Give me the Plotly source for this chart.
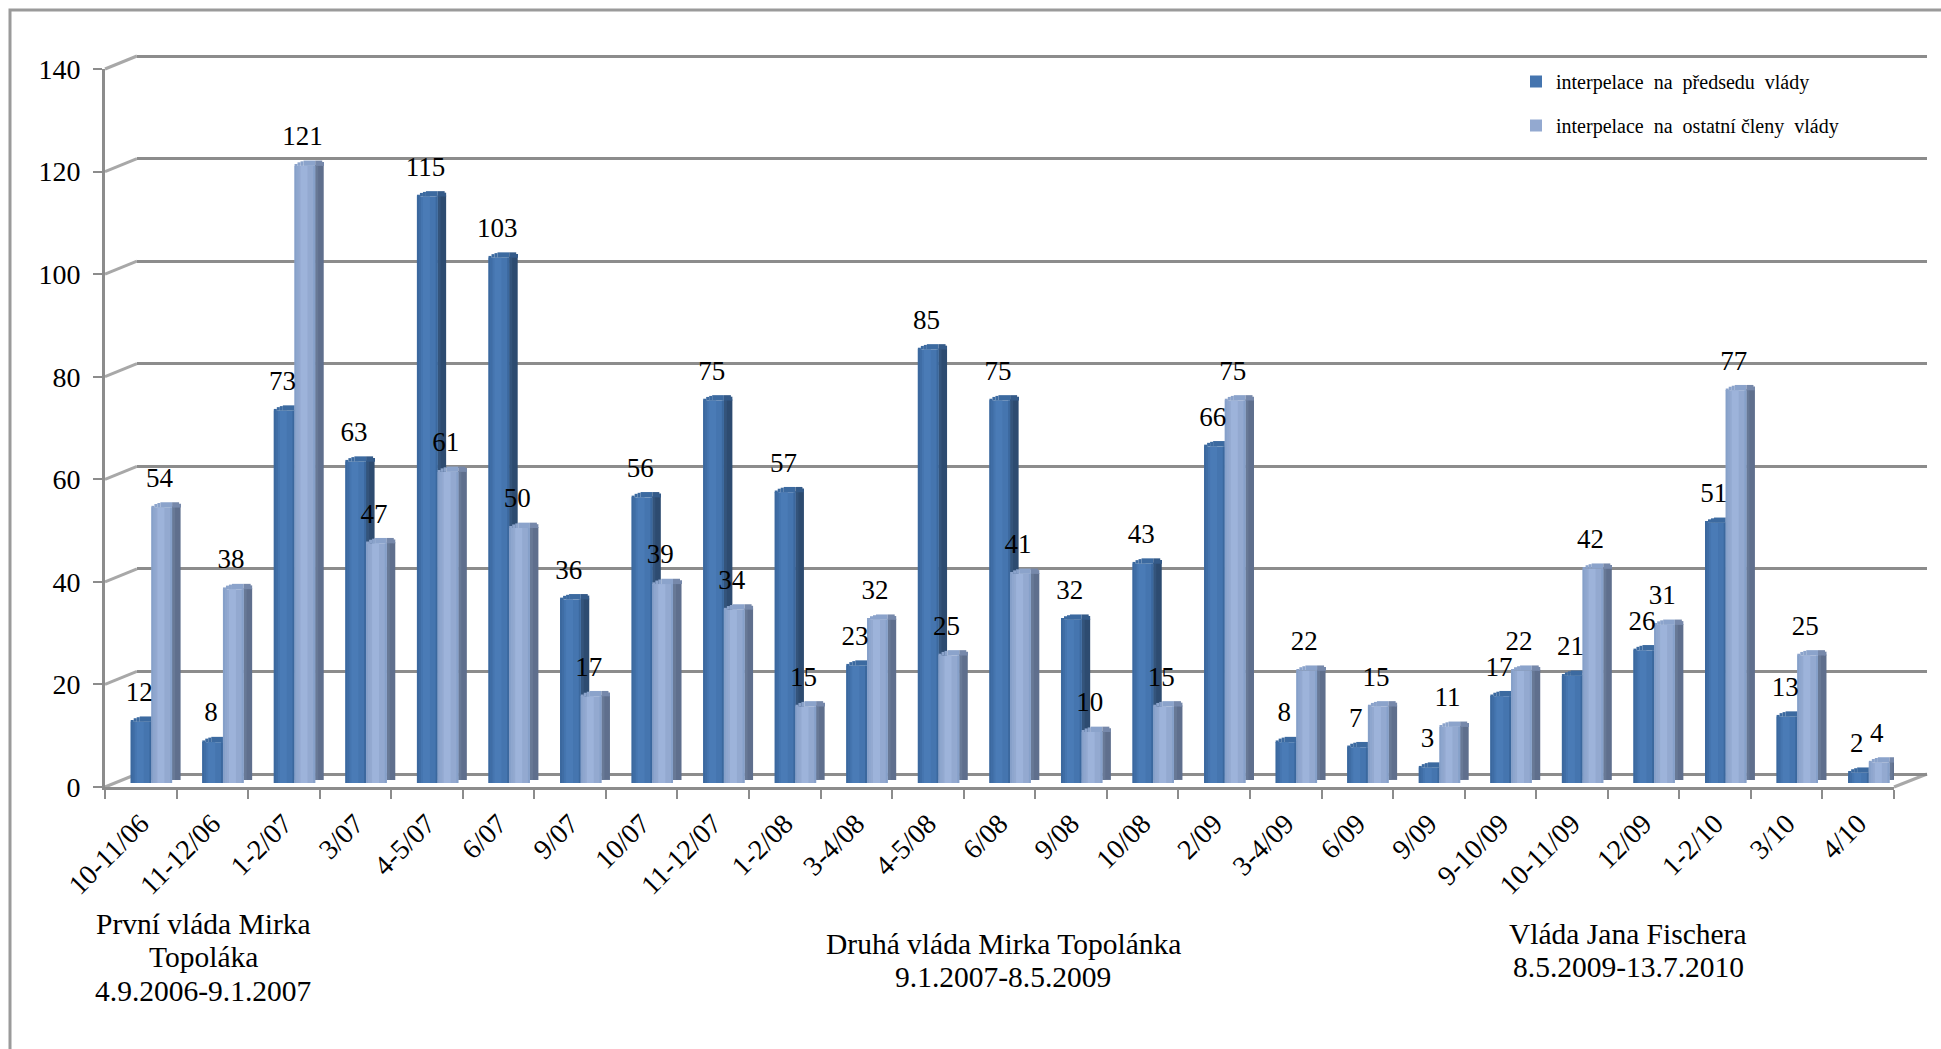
import plotly.graph_objects as go

categories = ["10-11/06", "11-12/06", "1-2/07", "3/07", "4-5/07", "6/07", "9/07", "10/07",
              "11-12/07", "1-2/08", "3-4/08", "4-5/08", "6/08", "9/08", "10/08", "2/09",
              "3-4/09", "6/09", "9/09", "9-10/09", "10-11/09", "12/09", "1-2/10", "3/10", "4/10"]
premier = [12, 8, 73, 63, 115, 103, 36, 56, 75, 57, 23, 85, 75, 32, 43, 66, 8, 7, 3, 17, 21, 26, 51, 13, 2]
ministers = [54, 38, 121, 47, 61, 50, 17, 39, 34, 15, 32, 25, 41, 10, 15, 75, 22, 15, 11, 22, 42, 31, 77, 25, 4]
series_names = ["interpelace\u2002na\u2002předsedu\u2002vlády", "interpelace\u2002na\u2002ostatní členy\u2002vlády"]
y_ticks = [0, 20, 40, 60, 80, 100, 120, 140]
group_notes = [
    (203, [(924, "První vláda Mirka"), (957, "Topoláka"), (991, "4.9.2006-9.1.2007")]),
    (1003, [(944, "Druhá vláda Mirka Topolánka"), (977, "9.1.2007-8.5.2009")]),
    (1628, [(934, "Vláda Jana Fischera"), (967, "8.5.2009-13.7.2010")]),
]

W, H = 1941, 1049
FONT = "Liberation Serif"
GRID = "#8c8c8c"
FLOOR = "#a8a8a8"

FX0, FX1 = 105, 1894          # front axis extent
BX0, BX1 = 137, 1927          # back wall extent
CAT = (FX1 - FX0) / len(categories)
PXU = 718 / 140               # pixels per value unit on the walls


def xd(a, b):
    return [a / W, b / W]


def yd(y0px, y140px):
    return [(H - y0px) / H, (H - y140px) / H]


def px(x, y):
    return x / W, (H - y) / H


fig = go.Figure()

# back wall (first subplot, so it lies beneath the bars)
fig.add_trace(go.Scatter(x=categories, y=[None] * len(categories), xaxis="x", yaxis="y",
                         mode="lines", showlegend=False, hoverinfo="skip"))


def add_bar(vals, start, width, color, base=None, name=None, group=None, legend=False):
    offset = (start - CAT / 2) / CAT
    fig.add_trace(go.Bar(x=categories, y=vals, base=base, offset=offset, width=width / CAT,
                         xaxis="x2", yaxis="y2", marker=dict(color=color, line=dict(width=0)),
                         name=name, legendgroup=group, showlegend=legend, hoverinfo="skip" if not legend else None))


styles = [
    dict(vals=premier, start=25.7, name=series_names[0], group="a", main="#4575af", hi="#4a7bb6",
         edge="#3b689e", edge2="#3f6da5", side="#2d4b70", side2="#34547b", cap="#3c6aa0", capside="#345a88"),
    dict(vals=ministers, start=46.4, name=series_names[1], group="b", main="#93a9d0", hi="#9db3da",
         edge="#86a0c9", edge2="#8ea6ce", side="#5f6f8d", side2="#687996", cap="#8ba3cb", capside="#7688aa"),
]
FW, SW = 20.7, 8.5
for s in styles:
    v, x0 = s["vals"], s["start"]
    # side face
    add_bar([max(a - 0.4, 0.2) for a in v], x0 + FW, SW, s["side"], base=[0.6] * len(v))
    add_bar([max(a - 0.4, 0.2) for a in v], x0 + FW, 3, s["side2"], base=[0.6] * len(v))
    # front face
    add_bar(v, x0, FW, s["main"], name=s["name"], group=s["group"], legend=True)
    add_bar(v, x0 + 6, 7, s["hi"])
    add_bar(v, x0, 2, s["edge"])
    add_bar(v, x0 + 2, 2, s["edge2"])
    add_bar(v, x0 + FW - 2, 2, s["edge"])
    # rounded top
    for dx, w, h, c in [(0, 3, 0.35, s["cap"]), (3, 3, 0.7, s["cap"]), (6, 3, 0.9, s["cap"]),
                        (9, FW - 9, 1.05, s["cap"]), (FW, SW - 1.5, 1.05, s["capside"]),
                        (FW + SW - 1.5, 1.5, 0.75, s["capside"])]:
        add_bar([h] * len(v), x0 + dx, w, c, base=v)

# front axis carrier
fig.add_trace(go.Scatter(x=categories, y=[None] * len(categories), xaxis="x3", yaxis="y3",
                         mode="lines", showlegend=False, hoverinfo="skip"))

# data labels
label_font = dict(family=FONT, size=27, color="black")
for v, shift in [(premier, 0.48), (ministers, 0.76)]:
    fig.add_trace(go.Scatter(x=[i + shift for i in range(len(v))], y=v, text=[str(a) for a in v],
                             mode="text", textposition="middle center", textfont=label_font,
                             xaxis="x4", yaxis="y4", showlegend=False, hoverinfo="skip", cliponaxis=False))

hidden = dict(visible=False, showgrid=False, zeroline=False, automargin=False)
cat_range = [-0.5, len(categories) - 0.5]
axis_line = dict(showline=True, linecolor=GRID, linewidth=3)

shapes = []
xa, ya = px(10, H)
xb, yb = px(10, 10)
xc, yc = px(W, 10)
shapes.append(dict(type="path", xref="paper", yref="paper", layer="below",
                   path=f"M{xa},{ya} L{xb},{yb} L{xc},{yc}", line=dict(color="#9a9a9a", width=3)))
for t in y_ticks:
    yf = 787 - t * PXU
    a = px(FX0, yf)
    b = px(BX0, yf - 13)
    shapes.append(dict(type="line", xref="paper", yref="paper", layer="below",
                       x0=a[0], y0=a[1], x1=b[0], y1=b[1], line=dict(color=FLOOR, width=3)))
a = px(FX1, 787)
b = px(BX1, 774)
shapes.append(dict(type="line", xref="paper", yref="paper", layer="below",
                   x0=a[0], y0=a[1], x1=b[0], y1=b[1], line=dict(color=FLOOR, width=3)))

annotations = []
for cx, lines in group_notes:
    for yy, txt in lines:
        ax, ay = px(cx, yy)
        annotations.append(dict(x=ax, y=ay, xref="paper", yref="paper", text=txt, showarrow=False,
                                xanchor="center", yanchor="middle",
                                font=dict(family=FONT, size=29.5, color="black")))

fig.update_layout(
    template="none",
    width=W, height=H, margin=dict(l=0, r=0, t=0, b=0, pad=0), autosize=False,
    paper_bgcolor="white", plot_bgcolor="rgba(0,0,0,0)", barmode="overlay",
    font=dict(family=FONT, color="black"),
    shapes=shapes, annotations=annotations,
    legend=dict(x=1516 / W, y=(H - 62) / H, xanchor="left", yanchor="top", traceorder="grouped",
                tracegroupgap=15, bgcolor="rgba(0,0,0,0)", font=dict(family=FONT, size=20, color="black")),
    # back wall: range runs a little past 0 and 140 so both end gridlines are drawn
    xaxis=dict(domain=xd(BX0, BX1), type="category", categoryorder="array", categoryarray=categories,
               range=cat_range, **hidden),
    yaxis=dict(domain=yd(774 + 2 * PXU, 56 - 2 * PXU), range=[-2, 142], tickvals=y_ticks, showgrid=True,
               gridcolor=GRID, gridwidth=3, zeroline=False, showticklabels=False, ticks="",
               showline=False, automargin=False),
    # bars
    xaxis2=dict(domain=xd(FX0, FX1), type="category", categoryorder="array", categoryarray=categories,
                range=cat_range, anchor="y2", **hidden),
    yaxis2=dict(domain=yd(783, 69), range=[0, 140], anchor="x2", **hidden),
    # front axes
    xaxis3=dict(domain=xd(FX0, FX1), type="category", categoryorder="array", categoryarray=categories,
                range=cat_range, anchor="y3", tickson="boundaries", ticks="outside", ticklen=9,
                tickwidth=2, tickcolor=GRID, tickangle=-45, showgrid=False, zeroline=False, automargin=False,
                tickfont=dict(family=FONT, size=28, color="black"), tickmode="array", ticklabelstandoff=6,
                tickvals=categories, ticktext=categories, **axis_line),
    yaxis3=dict(domain=yd(787, 69), range=[0, 140], anchor="x3", tickvals=y_ticks, ticks="outside",
                ticklen=9, tickwidth=2, tickcolor=GRID, showgrid=False, zeroline=False, automargin=False,
                ticklabelstandoff=7, tickfont=dict(family=FONT, size=28, color="black"), **axis_line),
    # data label axes
    xaxis4=dict(domain=xd(FX0, FX1), range=[0, len(categories)], anchor="y4", **hidden),
    yaxis4=dict(domain=yd(755.5, 41.5), range=[0, 140], anchor="x4", **hidden),
)

fig.write_html("out.html", post_script="document.body.style.margin='0';", config={"displayModeBar": False})
